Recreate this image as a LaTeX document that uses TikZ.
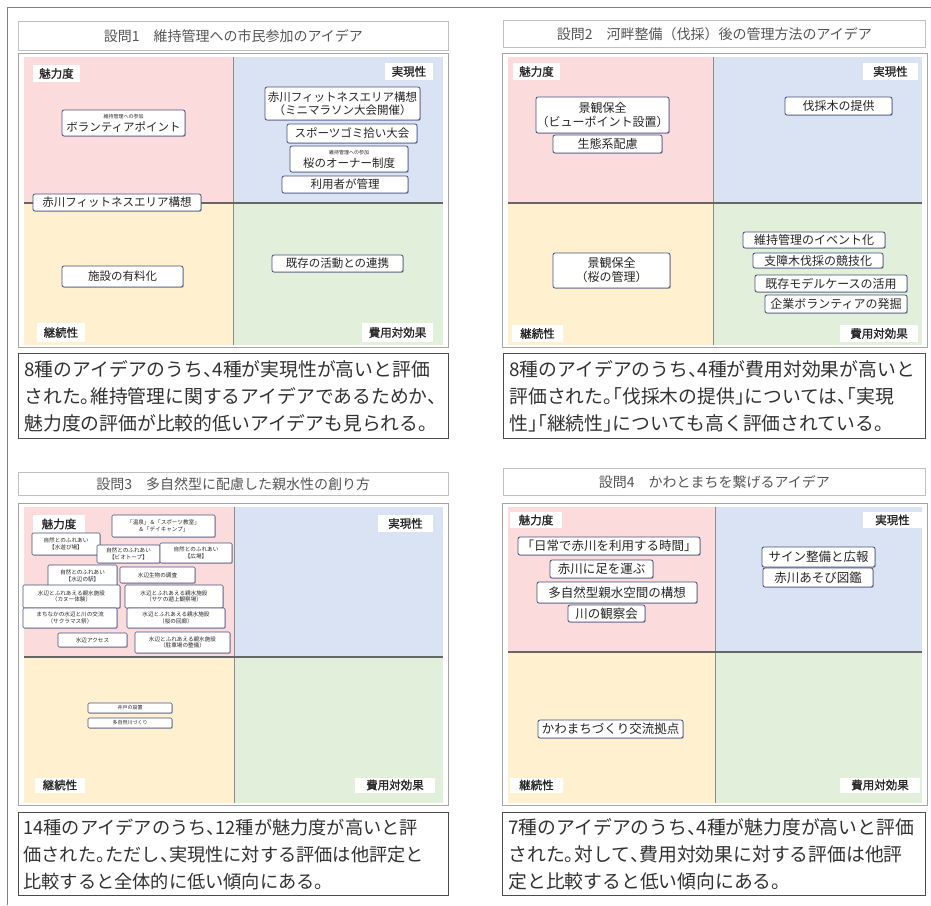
\documentclass[tikz,border=0pt]{standalone}
\usepackage{fontspec}
\setmainfont{Noto Sans CJK JP}
\newfontfamily\jpb[FakeBold=1.2]{Noto Sans CJK JP}
\usetikzlibrary{shadows}
\definecolor{qpink}{RGB}{251,219,220}
\definecolor{qblue}{RGB}{218,227,243}
\definecolor{qyellow}{RGB}{255,241,207}
\definecolor{qgreen}{RGB}{226,239,218}
\definecolor{framegray}{RGB}{165,165,165}
\definecolor{itemc}{RGB}{70,82,125}
\definecolor{titlec}{RGB}{85,85,85}
\definecolor{capc}{RGB}{50,50,50}
\newcommand{\jtou}{\makebox[0.5em][l]{、}}
\newcommand{\jkuten}{\makebox[0.5em][l]{。}}
\newcommand{\jlk}{\makebox[0.5em][r]{「}}
\newcommand{\jrk}{\makebox[0.5em][l]{」}}
\tikzset{
  item/.style={draw=itemc, fill=white, rounded corners=2pt, line width=0.8pt, inner sep=0.5pt, align=center, text=black!85,
    drop shadow={shadow xshift=0.9pt, shadow yshift=-0.9pt, fill=itemc, opacity=0.35}},
  qlab/.style={fill=white, inner sep=1pt, text=black!85, font=\jpb\fontsize{11.5}{13}\selectfont},
  titlebox/.style={draw=framegray!70, fill=white, line width=0.6pt, text=titlec, font=\fontsize{14}{16}\selectfont, inner sep=0pt},
  capbox/.style={draw=black!70, fill=white, line width=1.1pt, text=capc, align=left, inner xsep=6pt, inner ysep=0pt, font=\fontsize{18.8}{27}\selectfont},
  fa/.style={font=\fontsize{11.5}{13}\selectfont},
  fb/.style={font=\fontsize{12}{14}\selectfont},
  fc/.style={font=\fontsize{5.6}{6.8}\selectfont, rounded corners=1.2pt, line width=0.6pt},
  fd/.style={font=\fontsize{12.5}{14}\selectfont},
}
\newcommand{\qframe}[6]{%
  \fill[white] (#1,#3) rectangle (#2,#6);
  \draw[framegray, line width=0.8pt] (#1,#3) rectangle (#2,#6);
  \fill[qpink] (#1+6,#3+4) rectangle (#4,#5);
  \fill[qblue] (#4,#3+4) rectangle (#2-5,#5);
  \fill[qyellow] (#1+6,#5) rectangle (#4,#6-2);
  \fill[qgreen] (#4,#5) rectangle (#2-5,#6-2);
  \draw[black!45, line width=1pt] (#4,#3+4) -- (#4,#6-2);
  \draw[black!60, line width=1.6pt] (#1+6,#5) -- (#2-5,#5);
}
\begin{document}
\begin{tikzpicture}[x=1pt, y=-1pt]
\useasboundingbox (0,0) rectangle (931,905);
\fill[white] (0,0) rectangle (931,905);
\draw[black!50, line width=1pt] (931,7) -- (7,7) -- (7,905);

% ---------------- Panel 1
\node[titlebox, minimum width=430pt, minimum height=29pt, anchor=north west] (t1) at (18,21) {設問1　維持管理への市民参加のアイデア};
\qframe{18}{448}{53}{233}{203}{347}
\node[qlab, minimum width=47pt, minimum height=17pt] (l1a) at (56.5,73.5) {魅力度};
\node[qlab, minimum width=48pt, minimum height=17pt] (l1b) at (409,71.5) {実現性};
\node[qlab, minimum width=48pt, minimum height=19pt] (l1c) at (61,332.5) {継続性};
\node[qlab, minimum width=71pt, minimum height=19pt] (l1d) at (397.5,332.5) {費用対効果};
\node[item, fa, minimum width=123pt, minimum height=26pt] (p1a) at (123.5,123) {{\fontsize{5}{6}\selectfont 維持管理への参加}\\ボランティアポイント};
\node[item, fa, minimum width=155pt, minimum height=33pt] (p1b) at (342.5,103.5) {赤川フィットネスエリア構想\\（ミニマラソン大会開催）};
\node[item, fa, minimum width=130pt, minimum height=19pt] (p1c) at (352,133.5) {スポーツゴミ拾い大会};
\node[item, fa, minimum width=118pt, minimum height=26pt] (p1d) at (349,159) {{\fontsize{5}{6}\selectfont 維持管理への参加}\\桜のオーナー制度};
\node[item, fa, minimum width=126pt, minimum height=17pt] (p1e) at (345,184.5) {利用者が管理};
\node[item, fa, minimum width=168pt, minimum height=17pt] (p1f) at (117,202.5) {赤川フィットネスエリア構想};
\node[item, fa, minimum width=121pt, minimum height=21pt] (p1g) at (122.5,276.5) {施設の有料化};
\node[item, fa, minimum width=131pt, minimum height=17pt] (p1h) at (337.5,263.5) {既存の活動との連携};
\node[capbox, text width=418pt, minimum height=85pt, anchor=north west] (c1) at (18,353) {8種のアイデアのうち\jtou 4種が実現性が高いと評価\\された\jkuten 維持管理に関するアイデアであるためか\jtou\\魅力度の評価が比較的低いアイデアも見られる\jkuten};

% ---------------- Panel 2
\node[titlebox, minimum width=422pt, minimum height=27pt, anchor=north west] (t2) at (503,20) {設問2　河畔整備（伐採）後の管理方法のアイデア};
\qframe{502}{927}{53}{713}{203}{347}
\node[qlab, minimum width=47pt, minimum height=17pt] (l2a) at (536.5,71.5) {魅力度};
\node[qlab, minimum width=55pt, minimum height=17pt] (l2b) at (890.5,71.5) {実現性};
\node[qlab, minimum width=51pt, minimum height=17pt] (l2c) at (537.5,333.5) {継続性};
\node[qlab, minimum width=78pt, minimum height=17pt] (l2d) at (879,333.5) {費用対効果};
\node[item, fb, minimum width=129pt, minimum height=36pt] (p2a) at (602.5,115) {景観保全\\（ビューポイント設置）};
\node[item, fb, minimum width=109pt, minimum height=18pt] (p2b) at (607.5,144) {生態系配慮};
\node[item, fb, minimum width=107pt, minimum height=18pt] (p2c) at (838.5,106) {伐採木の提供};
\node[item, fb, minimum width=117pt, minimum height=35pt] (p2d) at (611.5,270.5) {景観保全\\（桜の管理）};
\node[item, fb, minimum width=142pt, minimum height=16pt] (p2e) at (814,240) {維持管理のイベント化};
\node[item, fb, minimum width=130pt, minimum height=15pt] (p2f) at (818,260.5) {支障木伐採の競技化};
\node[item, fb, minimum width=152pt, minimum height=17pt] (p2g) at (831,283.5) {既存モデルケースの活用};
\node[item, fb, minimum width=142pt, minimum height=18pt] (p2h) at (836,304) {企業ボランティアの発掘};
\node[capbox, text width=410pt, minimum height=85pt, anchor=north west] (c2) at (503,353) {8種のアイデアのうち\jtou 4種が費用対効果が高いと\\評価された\jkuten\jlk 伐採木の提供\jrk については\jtou\jlk 実現\\性\jrk\jlk 継続性\jrk についても高く評価されている\jkuten};

% ---------------- Panel 3
\node[titlebox, minimum width=430pt, minimum height=23pt, anchor=north west] (t3) at (18,472) {設問3　多自然型に配慮した親水性の創り方};
\qframe{18}{448}{503}{234}{657}{805}
\node[qlab, minimum width=52pt, minimum height=18pt] (l3a) at (59,524) {魅力度};
\node[qlab, minimum width=55pt, minimum height=17pt] (l3b) at (405.5,523.5) {実現性};
\node[qlab, minimum width=50pt, minimum height=15pt] (l3c) at (60,785) {継続性};
\node[qlab, minimum width=80pt, minimum height=15pt] (l3d) at (395,785) {費用対効果};
\node[item, fc, minimum width=103pt, minimum height=22pt] (q1) at (163.5,526) {「温泉」＆「スポーツ教室」\\＆「デイキャンプ」};
\node[item, fc, minimum width=68pt, minimum height=22pt] (q2) at (66,544) {自然とのふれあい\\【水遊び場】};
\node[item, fc, minimum width=63pt, minimum height=18pt] (q3) at (128.5,554) {自然とのふれあい\\【ビオトープ】};
\node[item, fc, minimum width=72pt, minimum height=20pt] (q4) at (196,553) {自然とのふれあい\\【広場】};
\node[item, fc, minimum width=69pt, minimum height=22pt] (q5) at (82.5,576) {自然とのふれあい\\【水辺の駅】};
\node[item, fc, minimum width=75pt, minimum height=16pt] (q6) at (157.5,575) {水辺生物の調査};
\node[item, fc, minimum width=97pt, minimum height=23pt] (q7) at (71.5,596.5) {水辺とふれあえる親水施設\\（カヌー体験）};
\node[item, fc, minimum width=98pt, minimum height=23pt] (q8) at (174,596.5) {水辺とふれあえる親水施設\\（サケの遡上観察場）};
\node[item, fc, minimum width=94pt, minimum height=20pt] (q9) at (70,618) {まちなかの水辺と川の交流\\（サクラマス祭）};
\node[item, fc, minimum width=98pt, minimum height=20pt] (q10) at (176,618) {水辺とふれあえる親水施設\\（桜の回廊）};
\node[item, fc, minimum width=69pt, minimum height=14pt] (q11) at (92.5,640) {水辺アクセス};
\node[item, fc, minimum width=95pt, minimum height=21pt] (q12) at (182.5,642.5) {水辺とふれあえる親水施設\\（駐車場の整備）};
\node[item, fc, font=\fontsize{5}{6}\selectfont, minimum width=84pt, minimum height=10pt] (q13) at (130,708) {井戸の設置};
\node[item, fc, font=\fontsize{5}{6}\selectfont, minimum width=84pt, minimum height=10pt] (q14) at (130,723) {多自然川づくり};
\node[capbox, font=\fontsize{18.2}{27}\selectfont, inner xsep=5pt, text width=420pt, minimum height=83pt, anchor=north west] (c3) at (18,812) {14種のアイデアのうち\jtou 12種が魅力度が高いと評\\価された\jkuten ただし\jtou 実現性に対する評価は他評定と\\比較すると全体的に低い傾向にある\jkuten};

% ---------------- Panel 4
\node[titlebox, minimum width=422pt, minimum height=27pt, anchor=north west] (t4) at (503,468) {設問4　かわとまちを繋げるアイデア};
\qframe{502}{927}{503}{715}{652}{805}
\node[qlab, minimum width=52pt, minimum height=16pt] (l4a) at (536,520) {魅力度};
\node[qlab, minimum width=59pt, minimum height=16pt] (l4b) at (892.5,520) {実現性};
\node[qlab, minimum width=53pt, minimum height=15pt] (l4c) at (536.5,785) {継続性};
\node[qlab, minimum width=80pt, minimum height=15pt] (l4d) at (880,785) {費用対効果};
\node[item, fd, minimum width=182pt, minimum height=18pt] (r1) at (609,546) {「日常で赤川を利用する時間」};
\node[item, fd, minimum width=103pt, minimum height=18pt] (r2) at (601.5,569) {赤川に足を運ぶ};
\node[item, fd, minimum width=160pt, minimum height=21pt] (r3) at (617,592.5) {多自然型親水空間の構想};
\node[item, fd, minimum width=77pt, minimum height=17pt] (r4) at (606.5,613.5) {川の観察会};
\node[item, fd, minimum width=113pt, minimum height=20pt] (r5) at (818.5,557) {サイン整備と広報};
\node[item, fd, minimum width=110pt, minimum height=19pt] (r6) at (818,577.5) {赤川あそび図鑑};
\node[item, fd, minimum width=145pt, minimum height=18pt] (r7) at (610.5,729) {かわまちづくり交流拠点};
\node[capbox, text width=411pt, minimum height=83pt, anchor=north west] (c4) at (502,812) {7種のアイデアのうち\jtou 4種が魅力度が高いと評価\\された\jkuten 対して\jtou 費用対効果に対する評価は他評\\定と比較すると低い傾向にある\jkuten};
\end{tikzpicture}
\end{document}
